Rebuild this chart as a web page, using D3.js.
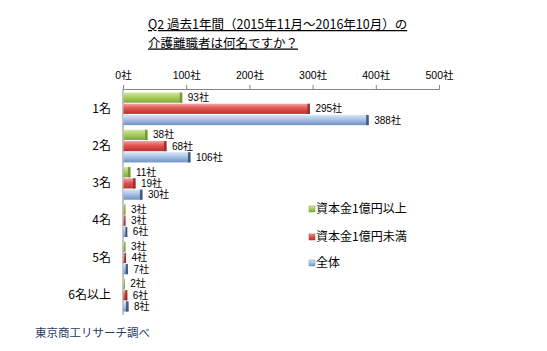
<!DOCTYPE html>
<html><head><meta charset="utf-8">
<script src="https://cdn.jsdelivr.net/npm/d3@7"></script>
<style>
body{margin:0;background:#fff;}
text{font-family:"Noto Sans CJK JP","Noto Sans",sans-serif;}
.num{font-family:"Liberation Sans","Noto Sans CJK JP",sans-serif;}
</style></head>
<body><svg id="c" width="547" height="351"></svg>
<script>
const categories = ["1名","2名","3名","4名","5名","6名以上"];
const seriesNames = ["資本金1億円以上","資本金1億円未満","全体"];
const over100m = [93,38,11,3,3,2];
const under100m = [295,68,19,3,4,6];
const total = [388,106,30,6,7,8];
const tickValues = [0,100,200,300,400,500];
const titleLines = ["Q2 過去1年間（2015年11月～2016年10月）の","介護離職者は何名ですか？"];
const source = "東京商工リサーチ調べ";

const values = [over100m, under100m, total];
const colors = [
  {top:"#d3e8a6", mid:"#a9cf5f", bot:"#7fa83a", cap:"#6f8f36"},
  {top:"#f3a3a1", mid:"#e05450", bot:"#b8322e", cap:"#8e2b28"},
  {top:"#d8e5f5", mid:"#a8c3e6", bot:"#6f90c0", cap:"#2f4a6e"}
];

const svg = d3.select("#c");
const defs = svg.append("defs");
colors.forEach((c,i)=>{
  const g = defs.append("linearGradient").attr("id","g"+i).attr("x1",0).attr("y1",0).attr("x2",0).attr("y2",1);
  g.append("stop").attr("offset","0%").attr("stop-color",c.top);
  g.append("stop").attr("offset","45%").attr("stop-color",c.mid);
  g.append("stop").attr("offset","100%").attr("stop-color",c.bot);
});

const x = d3.scaleLinear().domain([0,500]).range([123,439]);
const y0 = d3.scaleBand().domain(categories).range([89,315]).paddingInner(0.097).paddingOuter(0.08);
const y1 = d3.scaleBand().domain(d3.range(3)).range([0,y0.bandwidth()]);

// title
const t = svg.append("g");
titleLines.forEach((s,i)=>{
  t.append("text").attr("x",148).attr("y",29+i*18.5).attr("font-size",12.5)
   .attr("fill","#000").attr("text-decoration","underline").text(s);
});

// top axis
const ax = svg.append("g").attr("transform","translate(0,89)")
  .call(d3.axisTop(x).tickValues(tickValues).tickSize(4).tickFormat(d=>d+"社"));
ax.select(".domain").attr("stroke","#868686");
ax.selectAll(".tick line").attr("stroke","#868686");
ax.selectAll(".tick text").attr("font-size",10.5).attr("fill","#000").attr("y",-10)
  .attr("class","num").attr("font-family",null);

// left axis
const ay = svg.append("g").attr("transform","translate(123,0)")
  .call(d3.axisLeft(y0).tickSize(0).tickPadding(12));
ay.select(".domain").attr("stroke","#868686").attr("d","M0,89V315");
ay.selectAll(".tick text").attr("font-size",12).attr("fill","#000")
  .attr("font-family","'Noto Sans CJK JP',sans-serif");

// bars
const groups = svg.append("g").selectAll("g").data(categories).join("g")
  .attr("transform",c=>`translate(0,${y0(c)})`);
groups.each(function(c,ci){
  const g = d3.select(this);
  values.forEach((arr,si)=>{
    const v = arr[ci];
    const yy = y1(si)+0.5, h = y1.bandwidth()-1;
    const w = x(v)-x(0);
    g.append("rect").attr("x",x(0)+0.5).attr("y",yy).attr("width",Math.max(w,0.8)).attr("height",h)
      .attr("fill",`url(#g${si})`);
    const cw = Math.min(2.5, w*0.5);
    g.append("rect").attr("x",x(v)+0.5-cw).attr("y",yy).attr("width",cw).attr("height",h)
      .attr("fill",colors[si].cap).attr("opacity",0.85);
    g.append("text").attr("class","num").attr("x",x(v)+6).attr("y",yy+h/2).attr("dy","0.35em")
      .attr("font-size",10).attr("fill","#000").text(v+"社");
  });
});

// legend
const legY = [209,237,263];
seriesNames.forEach((s,i)=>{
  svg.append("rect").attr("x",309).attr("y",legY[i]-3).attr("width",6).attr("height",6)
    .attr("fill",`url(#g${i})`).attr("stroke",colors[i].bot).attr("stroke-width",0.5);
  svg.append("text").attr("x",316).attr("y",legY[i]).attr("dy","0.36em")
    .attr("font-size",12).attr("fill","#000").text(s);
});

// source
svg.append("text").attr("x",35).attr("y",333).attr("dy","0.36em").attr("font-size",11.5)
  .attr("fill","#1f3a63").text(source);
</script></body></html>
